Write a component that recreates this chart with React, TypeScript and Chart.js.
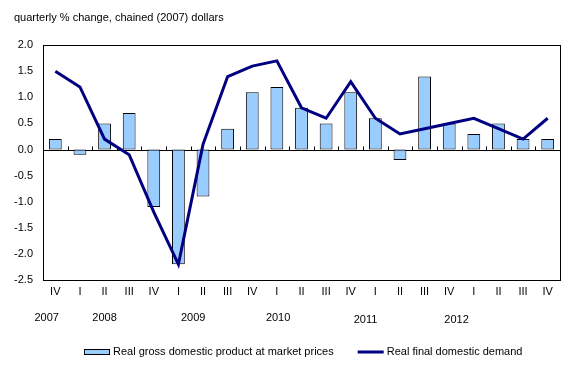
import React, { useEffect, useRef } from 'react';
import { Chart, registerables } from 'chart.js';

Chart.register(...registerables);

// ---- data ----
const quarters = ['IV', 'I', 'II', 'III', 'IV', 'I', 'II', 'III', 'IV', 'I', 'II', 'III', 'IV', 'I', 'II', 'III', 'IV', 'I', 'II', 'III', 'IV'];
const gdpChange = [0.2, -0.1, 0.5, 0.7, -1.1, -2.2, -0.9, 0.4, 1.1, 1.2, 0.8, 0.5, 1.1, 0.6, -0.2, 1.4, 0.5, 0.3, 0.5, 0.2, 0.2];
const demandChange = [1.5, 1.2, 0.2, -0.1, -1.2, -2.2, 0.1, 1.4, 1.6, 1.7, 0.8, 0.6, 1.3, 0.6, 0.3, 0.4, 0.5, 0.6, 0.4, 0.2, 0.6];
const yearLabels = ['2007', '2008', '2009', '2010', '2011', '2012'];
const seriesNames = ['Real gross domestic product at market prices', 'Real final domestic demand'];
const titleText = 'quarterly % change, chained (2007) dollars';
const yMin = -2.5;
const yMax = 2.0;
const yStep = 0.5;

// ---- layout (not data) ----
const yearAnchors = [-0.35, 2.0, 5.6, 9.05, 12.6, 16.3]; // fractional category index for each year label centre
const FONT = '"Liberation Sans", Arial, Helvetica, sans-serif';
const BAR_FILL = '#99CCFF';
const LINE_COLOR = '#000080';

const decorPlugin = {
  id: 'decor',
  beforeDatasetsDraw(chart: any) {
    const { ctx, chartArea, scales } = chart;
    const x = scales.x;
    const y = scales.y;
    const zeroY = Math.round(y.getPixelForValue(0)) + 0.5;
    ctx.save();
    ctx.strokeStyle = '#000';
    ctx.lineWidth = 1;
    ctx.beginPath();
    ctx.moveTo(chartArea.left, zeroY);
    ctx.lineTo(chartArea.right, zeroY);
    // small tick marks at category boundaries, pointing up from the zero line
    const n = quarters.length;
    for (let i = 1; i < n; i++) {
      const px = Math.round((x.getPixelForValue(i - 1) + x.getPixelForValue(i)) / 2) + 0.5;
      ctx.moveTo(px, zeroY);
      ctx.lineTo(px, zeroY - 4);
    }
    ctx.stroke();
    ctx.restore();
  },
  afterDraw(chart: any) {
    const { ctx, chartArea, scales } = chart;
    const x = scales.x;
    ctx.save();
    // frame
    ctx.strokeStyle = '#000';
    ctx.lineWidth = 1;
    ctx.strokeRect(
      Math.round(chartArea.left) + 0.5,
      Math.round(chartArea.top) + 0.5,
      Math.round(chartArea.right - chartArea.left),
      Math.round(chartArea.bottom - chartArea.top)
    );
    // year labels
    ctx.fillStyle = '#000';
    ctx.font = `11px ${FONT}`;
    ctx.textAlign = 'center';
    ctx.textBaseline = 'middle';
    const p0 = x.getPixelForValue(0);
    const step = x.getPixelForValue(1) - p0;
    yearLabels.forEach((lab, i) => {
      const px = p0 + yearAnchors[i] * step;
      const yy = chartArea.bottom + (i >= 4 ? 40 : 38);
      ctx.fillText(lab, px, yy);
    });
    // legend
    const ly = chartArea.bottom + 72;
    ctx.textAlign = 'left';
    const boxW = 26;
    const gapText = 3;
    const gapItems = 24;
    const w1 = ctx.measureText(seriesNames[0]).width;
    const w2 = ctx.measureText(seriesNames[1]).width;
    const total = boxW + gapText + w1 + gapItems + boxW + gapText + w2;
    let lx = Math.round((chartArea.left + chartArea.right) / 2 + 2 - total / 2);
    ctx.fillStyle = BAR_FILL;
    ctx.fillRect(lx, Math.round(ly) - 3, boxW, 6);
    ctx.strokeStyle = '#000';
    ctx.lineWidth = 1;
    ctx.strokeRect(lx + 0.5, Math.round(ly) - 3 + 0.5, boxW - 1, 5);
    ctx.fillStyle = '#000';
    ctx.fillText(seriesNames[0], lx + boxW + gapText, ly);
    lx = lx + boxW + gapText + w1 + gapItems;
    ctx.strokeStyle = LINE_COLOR;
    ctx.lineWidth = 3;
    ctx.beginPath();
    ctx.moveTo(lx, Math.round(ly));
    ctx.lineTo(lx + boxW, Math.round(ly));
    ctx.stroke();
    ctx.fillStyle = '#000';
    ctx.fillText(seriesNames[1], lx + boxW + gapText, ly);
    ctx.restore();
  },
};

export default function App() {
  const ref = useRef<HTMLCanvasElement>(null);
  useEffect(() => {
    const chart = new Chart(ref.current as HTMLCanvasElement, {
      data: {
        labels: quarters,
        datasets: [
          {
            type: 'bar',
            label: seriesNames[0],
            data: gdpChange,
            backgroundColor: BAR_FILL,
            borderColor: '#000',
            borderWidth: 1,
            borderSkipped: false,
            barPercentage: 0.52,
            categoryPercentage: 1,
            order: 2,
          },
          {
            type: 'line',
            label: seriesNames[1],
            data: demandChange,
            borderColor: LINE_COLOR,
            backgroundColor: LINE_COLOR,
            borderWidth: 3,
            pointRadius: 0,
            tension: 0,
            order: 1,
          },
        ],
      } as any,
      options: {
        animation: false,
        responsive: false,
        devicePixelRatio: 1,
        layout: { padding: { left: 14, right: 28, top: 0, bottom: 0 } },
        plugins: {
          legend: { display: false },
          tooltip: { enabled: false },
          title: {
            display: true,
            text: titleText,
            align: 'start',
            color: '#000',
            font: { family: FONT, size: 11, weight: 'normal' },
            padding: { top: 11, bottom: 21 },
          },
        },
        scales: {
          x: {
            type: 'category',
            grid: { display: false, drawTicks: false },
            border: { display: false },
            ticks: {
              color: '#000',
              font: { family: FONT, size: 11 },
              padding: 5,
              maxRotation: 0,
              autoSkip: false,
            },
            afterFit: (s: any) => {
              s.height = 100;
            },
          },
          y: {
            min: yMin,
            max: yMax,
            grid: { display: false, drawTicks: false },
            border: { display: false },
            ticks: {
              stepSize: yStep,
              color: '#000',
              font: { family: FONT, size: 11 },
              padding: 10,
              callback: (v: any) => Number(v).toFixed(1),
            },
            afterFit: (s: any) => {
              s.width = 29;
            },
          },
        },
      } as any,
      plugins: [decorPlugin],
    });
    return () => chart.destroy();
  }, []);
  return (
    <div style={{ position: 'absolute', left: 0, top: 0, width: 588, height: 380, background: '#fff' }}>
      <canvas ref={ref} width={588} height={380} style={{ display: 'block' }} />
    </div>
  );
}
